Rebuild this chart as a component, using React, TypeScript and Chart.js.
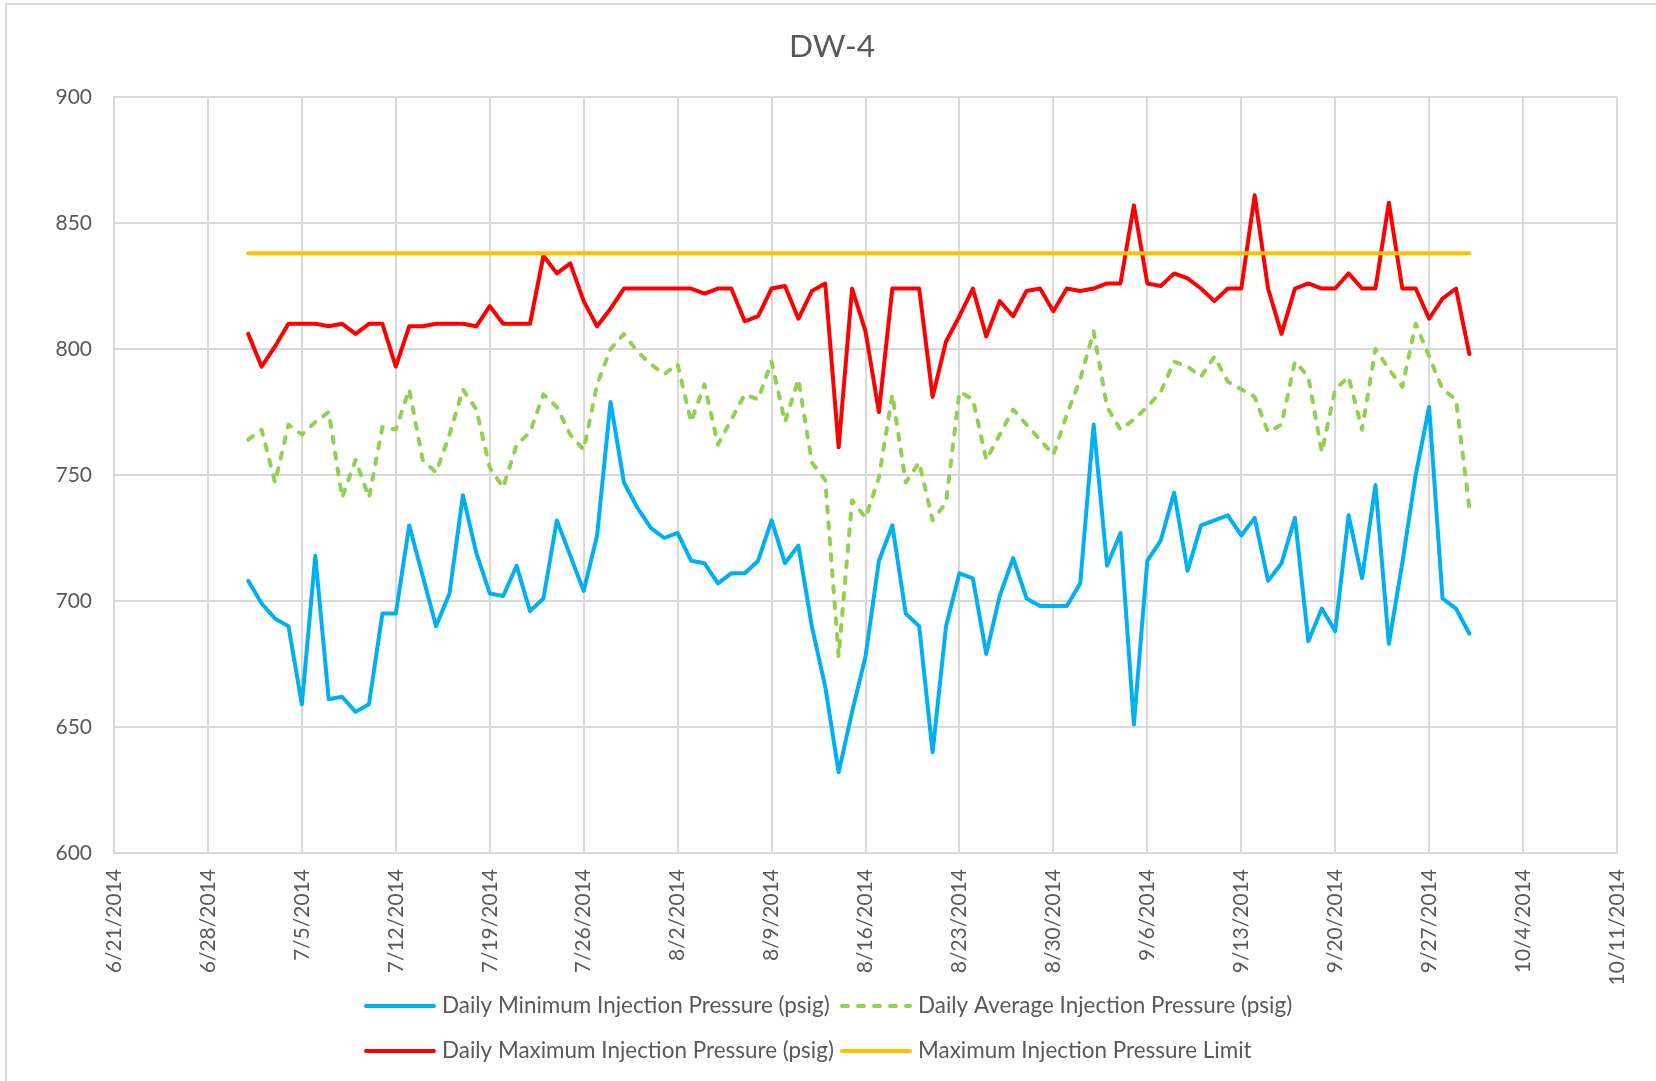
import React, { useEffect, useRef } from "react";
import { Chart, registerables } from "chart.js";

Chart.register(...registerables);

const FONT = "Lato, 'Open Sans', sans-serif";

const chartTitle = "DW-4";
const seriesNames = [
  "Daily Minimum Injection Pressure (psig)",
  "Daily Average Injection Pressure (psig)",
  "Daily Maximum Injection Pressure (psig)",
  "Maximum Injection Pressure Limit",
];

const xAxisStart = "6/21/2014";
const xAxisEnd = "10/11/2014";
const xTickStepDays = 7;
const yMin = 600;
const yMax = 900;
const yStep = 50;

const dates = [
  "7/1/2014", "7/2/2014", "7/3/2014", "7/4/2014", "7/5/2014", "7/6/2014", "7/7/2014", "7/8/2014",
  "7/9/2014", "7/10/2014", "7/11/2014", "7/12/2014", "7/13/2014", "7/14/2014", "7/15/2014", "7/16/2014",
  "7/17/2014", "7/18/2014", "7/19/2014", "7/20/2014", "7/21/2014", "7/22/2014", "7/23/2014", "7/24/2014",
  "7/25/2014", "7/26/2014", "7/27/2014", "7/28/2014", "7/29/2014", "7/30/2014", "7/31/2014",
  "8/1/2014", "8/2/2014", "8/3/2014", "8/4/2014", "8/5/2014", "8/6/2014", "8/7/2014", "8/8/2014",
  "8/9/2014", "8/10/2014", "8/11/2014", "8/12/2014", "8/13/2014", "8/14/2014", "8/15/2014", "8/16/2014",
  "8/17/2014", "8/18/2014", "8/19/2014", "8/20/2014", "8/21/2014", "8/22/2014", "8/23/2014", "8/24/2014",
  "8/25/2014", "8/26/2014", "8/27/2014", "8/28/2014", "8/29/2014", "8/30/2014", "8/31/2014",
  "9/1/2014", "9/2/2014", "9/3/2014", "9/4/2014", "9/5/2014", "9/6/2014", "9/7/2014", "9/8/2014",
  "9/9/2014", "9/10/2014", "9/11/2014", "9/12/2014", "9/13/2014", "9/14/2014", "9/15/2014", "9/16/2014",
  "9/17/2014", "9/18/2014", "9/19/2014", "9/20/2014", "9/21/2014", "9/22/2014", "9/23/2014", "9/24/2014",
  "9/25/2014", "9/26/2014", "9/27/2014", "9/28/2014", "9/29/2014", "9/30/2014",
];

const minPressure = [
  708, 699, 693, 690, 659, 718, 661, 662, 656, 659, 695, 695, 730, 710, 690, 703,
  742, 719, 703, 702, 714, 696, 701, 732, 718, 704, 726, 779, 747, 737, 729,
  725, 727, 716, 715, 707, 711, 711, 716, 732, 715, 722, 690, 666, 632, 656,
  678, 716, 730, 695, 690, 640, 690, 711, 709, 679, 702, 717, 701, 698, 698, 698,
  707, 770, 714, 727, 651, 716, 724, 743, 712, 730, 732, 734, 726, 733, 708,
  715, 733, 684, 697, 688, 734, 709, 746, 683, 715, 750, 777, 701, 697, 687,
];

const avgPressure = [
  764, 768, 747, 770, 766, 771, 775, 741, 756, 741, 769, 768, 784, 756, 751, 766,
  784, 776, 753, 745, 762, 767, 782, 777, 766, 760, 786, 800, 806, 799, 794,
  790, 794, 771, 786, 762, 772, 782, 780, 795, 771, 788, 755, 748, 678, 740,
  733, 749, 782, 747, 755, 732, 739, 783, 780, 756, 766, 776, 770, 764, 758, 774,
  788, 807, 777, 768, 772, 777, 783, 795, 793, 789, 797, 787, 784, 781, 767,
  770, 795, 789, 759, 784, 789, 768, 800, 792, 785, 810, 797, 784, 780, 737,
];

const maxPressure = [
  806, 793, 801, 810, 810, 810, 809, 810, 806, 810, 810, 793, 809, 809, 810, 810,
  810, 809, 817, 810, 810, 810, 837, 830, 834, 819, 809, 816, 824, 824, 824,
  824, 824, 824, 822, 824, 824, 811, 813, 824, 825, 812, 823, 826, 761, 824,
  807, 775, 824, 824, 824, 781, 803, 813, 824, 805, 819, 813, 823, 824, 815, 824,
  823, 824, 826, 826, 857, 826, 825, 830, 828, 824, 819, 824, 824, 861, 824,
  806, 824, 826, 824, 824, 830, 824, 824, 858, 824, 824, 812, 820, 824, 798,
];

const limitDates = ["7/1/2014", "9/30/2014"];
const limitValues = [838, 838];

const seriesColors = ["#00B0F0", "#92D050", "#FF0000", "#FFC000"];

function dayNumber(s: string): number {
  const [m, d, y] = s.split("/").map(Number);
  return Math.round(Date.UTC(y, m - 1, d) / 86400000);
}
const baseDay = dayNumber(xAxisStart);
const endDay = dayNumber(xAxisEnd);

function toPoints(ds: string[], vs: number[]) {
  return ds.map((d, i) => ({ x: dayNumber(d) - baseDay, y: vs[i] }));
}
function formatDay(v: number): string {
  const dt = new Date((baseDay + v) * 86400000);
  return `${dt.getUTCMonth() + 1}/${dt.getUTCDate()}/${dt.getUTCFullYear()}`;
}

function fitSize(ctx: CanvasRenderingContext2D, text: string, target: number): number {
  ctx.font = `100px ${FONT}`;
  const w = ctx.measureText(text).width;
  return (100 * target) / w;
}

const overlayPlugin = {
  id: "overlay",
  afterDraw(chart: any) {
    const ctx: CanvasRenderingContext2D = chart.ctx;
    ctx.save();
    ctx.fillStyle = "#595959";
    ctx.textBaseline = "middle";
    ctx.textAlign = "center";
    const ts = fitSize(ctx, chartTitle, 86);
    ctx.font = `${ts}px ${FONT}`;
    ctx.fillText(chartTitle, 832, 47);

    const ls = fitSize(ctx, seriesNames[0], 388);
    const cols = [366, 842];
    const rows = [1006, 1051];
    chart.data.datasets.forEach((ds: any, i: number) => {
      const x = cols[i % 2];
      const y = rows[Math.floor(i / 2)];
      ctx.save();
      ctx.strokeStyle = ds.borderColor;
      ctx.lineWidth = ds.borderWidth;
      ctx.lineCap = "round";
      ctx.setLineDash(ds.borderDash || []);
      ctx.beginPath();
      ctx.moveTo(x, y);
      ctx.lineTo(x + 68, y);
      ctx.stroke();
      ctx.restore();
      ctx.fillStyle = "#595959";
      ctx.textAlign = "left";
      ctx.textBaseline = "middle";
      ctx.font = `${ls}px ${FONT}`;
      ctx.fillText(ds.label, x + 76, y);
    });
    ctx.restore();
  },
};

export default function App() {
  const canvasRef = useRef<HTMLCanvasElement | null>(null);

  useEffect(() => {
    const canvas = canvasRef.current;
    if (!canvas) return;
    const common = {
      borderWidth: 4,
      pointRadius: 0,
      pointHoverRadius: 0,
      tension: 0,
      fill: false,
      borderJoinStyle: "round" as const,
      borderCapStyle: "round" as const,
    };
    const chart = new Chart(canvas, {
      type: "line",
      data: {
        datasets: [
          { ...common, label: seriesNames[0], data: toPoints(dates, minPressure), borderColor: seriesColors[0], order: 4 },
          { ...common, label: seriesNames[1], data: toPoints(dates, avgPressure), borderColor: seriesColors[1], borderDash: [6, 10], order: 3 },
          { ...common, label: seriesNames[2], data: toPoints(dates, maxPressure), borderColor: seriesColors[2], order: 2 },
          { ...common, label: seriesNames[3], data: toPoints(limitDates, limitValues), borderColor: seriesColors[3], order: 1 },
        ],
      },
      options: {
        responsive: false,
        animation: false,
        devicePixelRatio: 1,
        layout: { padding: { top: 97, right: 39, left: 0, bottom: 0 } },
        plugins: {
          legend: { display: false },
          title: { display: false },
          tooltip: { enabled: false },
        },
        scales: {
          x: {
            type: "linear",
            min: 0,
            max: endDay - baseDay,
            afterFit: (scale: any) => {
              scale.height = 1081 - 853;
              scale.paddingLeft = 0;
              scale.paddingRight = 0;
            },
            grid: { color: "#D9D9D9", lineWidth: 2, drawTicks: false },
            border: { color: "#D9D9D9", width: 2 },
            ticks: {
              stepSize: xTickStepDays,
              autoSkip: false,
              minRotation: 90,
              maxRotation: 90,
              padding: 16,
              color: "#595959",
              font: { family: FONT, size: 21 },
              callback: (v: any) => formatDay(Number(v)),
            },
          },
          y: {
            min: yMin,
            max: yMax,
            afterFit: (scale: any) => {
              scale.width = 114;
            },
            grid: { color: "#D9D9D9", lineWidth: 2, drawTicks: false },
            border: { color: "#D9D9D9", width: 2 },
            ticks: {
              stepSize: yStep,
              padding: 22,
              color: "#595959",
              font: { family: FONT, size: 21 },
            },
          },
        },
      },
      plugins: [overlayPlugin],
    });
    return () => chart.destroy();
  }, []);

  return (
    <div>
      <div
        style={{
          position: "fixed",
          left: 5,
          top: 3,
          width: 1800,
          height: 1200,
          border: "2px solid #D9D9D9",
          boxSizing: "border-box",
        }}
      />
      <canvas
        ref={canvasRef}
        width={1656}
        height={1081}
        style={{ position: "fixed", left: 0, top: 0, width: 1656, height: 1081 }}
      />
    </div>
  );
}
